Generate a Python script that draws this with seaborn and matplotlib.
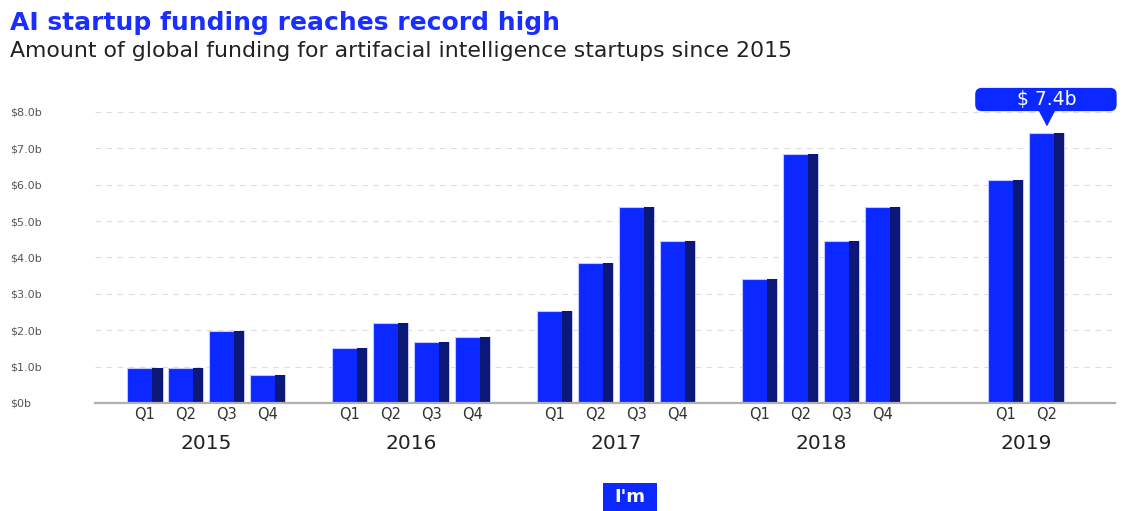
import pandas as pd
import matplotlib.pyplot as plt
import seaborn as sns
from matplotlib.patches import FancyBboxPatch, Polygon, Rectangle

# values (billions of USD)
years = ['2015', '2016', '2017', '2018', '2019']
quarters = ['Q1', 'Q2', 'Q3', 'Q4']
funding = {
    '2015': [0.97, 0.97, 1.97, 0.78],
    '2016': [1.50, 2.20, 1.67, 1.82],
    '2017': [2.54, 3.86, 5.38, 4.45],
    '2018': [3.42, 6.84, 4.44, 5.38],
    '2019': [6.12, 7.43],
}
ytick_vals = [0, 1, 2, 3, 4, 5, 6, 7, 8]
ytick_labels = ['$0b', '$1.0b', '$2.0b', '$3.0b', '$4.0b', '$5.0b', '$6.0b', '$7.0b', '$8.0b']
callout_text = '$ 7.4b'

BLUE = '#0a28ff'
DARK = '#0b1877'

# slot positions: 5 slots per year, a short year is centred in its group
rows = []
for g, yr in enumerate(years):
    vals = funding[yr]
    start = (4 - len(vals)) / 2
    for i, v in enumerate(vals):
        rows.append({'year': yr, 'quarter': quarters[i], 'value': v,
                     'pos': g * 5 + start + i, 'group': g})
df = pd.DataFrame(rows)

sns.set_theme(style='white')
plt.rcParams['font.family'] = ['DejaVu Sans']

fig = plt.figure(figsize=(11.24, 5.11), dpi=100)
ax = fig.add_axes([0.0845, 0.2114, 0.9075, 0.591])

bw = 0.854
dw = 0.244
sns.barplot(data=df, x='pos', y='value', native_scale=True, width=bw,
            color=BLUE, saturation=1, errorbar=None, ax=ax,
            edgecolor='#c4c8ff', linewidth=0.8, zorder=3)
# darker right-hand side of each bar
ax.bar(df['pos'] + bw / 2 - dw / 2, df['value'], width=dw, color=DARK,
       linewidth=0, zorder=4)

ax.set_xlim(-1.22, 23.66)
ax.set_ylim(0, 8.3)
ax.set_yticks(ytick_vals)
ax.set_yticklabels(ytick_labels, fontsize=8, color='#555555', ha='left')
ax.tick_params(axis='y', length=0, pad=61)
ax.set_xticks(df['pos'])
ax.set_xticklabels(df['quarter'], fontsize=10.5, color='#333333')
ax.tick_params(axis='x', length=0, pad=3)
ax.set_xlabel('')
ax.set_ylabel('')
ax.yaxis.grid(True, linestyle=(0, (5, 5)), color='#dddddd', linewidth=0.8, zorder=0)
ax.set_axisbelow(True)
for s in ['top', 'right', 'left']:
    ax.spines[s].set_visible(False)
ax.spines['bottom'].set_color('#b0b0b0')
ax.spines['bottom'].set_linewidth(1.6)
ax.spines['bottom'].set_zorder(5)

# year labels under each group
for g, yr in enumerate(years):
    centre = df.loc[df['group'] == g, 'pos'].mean()
    ax.text(centre, -0.133, yr, transform=ax.get_xaxis_transform(),
            ha='center', va='center', fontsize=14.5, color='#222222')

# callout above the record bar
top = df.loc[df['value'].idxmax()]
cx, cy = top['pos'], top['value']
box = FancyBboxPatch((cx - 1.75, cy + 0.59), 3.45, 0.64,
                     boxstyle='round,pad=0,rounding_size=0.16',
                     mutation_aspect=1.13,
                     facecolor=BLUE, edgecolor='none', clip_on=False, zorder=6)
ax.add_patch(box)
ax.add_patch(Polygon([[cx - 0.2, cy + 0.6], [cx + 0.2, cy + 0.6], [cx, cy + 0.17]],
                     closed=True, facecolor=BLUE, edgecolor='none',
                     clip_on=False, zorder=6))
ax.text(cx, cy + 0.91, callout_text, ha='center', va='center', fontsize=13.5,
        color='white', zorder=7, clip_on=False)

# titles
fig.text(0.009, 0.955, 'AI startup funding reaches record high', fontsize=18,
         fontweight='heavy', color='#1a2eff', va='center', ha='left')
fig.text(0.009, 0.9,
         'Amount of global funding for artifacial intelligence startups since 2015',
         fontsize=15.8, color='#222222', va='center', ha='left')

# logo
fig.patches.append(Rectangle((0.5365, 0.0), 0.048, 0.055, transform=fig.transFigure,
                             facecolor='#0a28ff', edgecolor='none', figure=fig))
fig.text(0.5605, 0.027, "I'm", fontsize=13, fontweight='bold', color='white',
         ha='center', va='center')

fig.savefig('out.png', dpi=100)
